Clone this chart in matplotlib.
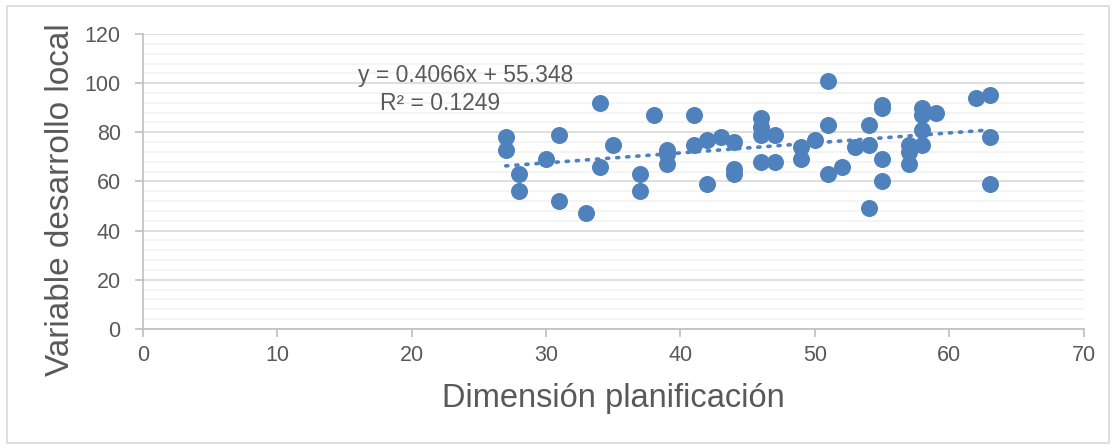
import numpy as np
import matplotlib
matplotlib.use("Agg")
import matplotlib.pyplot as plt
from matplotlib.ticker import MultipleLocator
from matplotlib.patches import Rectangle

# data
planificacion = [27, 27, 28, 28, 30, 31, 31, 33, 34, 34, 35, 37, 37, 38, 39, 39, 39,
                 41, 41, 42, 42, 43, 44, 44, 44, 46, 46, 46, 46, 47, 47, 49, 49, 50,
                 51, 51, 51, 52, 53, 54, 54, 54, 55, 55, 55, 55, 57, 57, 57, 58, 58,
                 58, 58, 59, 62, 63, 63, 63]
desarrollo = [78, 73, 63, 56, 69, 79, 52, 47, 92, 66, 75, 63, 56, 87, 73, 71, 67,
              87, 75, 77, 59, 78, 76, 65, 63, 86, 82, 79, 68, 79, 68, 74, 69, 77,
              101, 83, 63, 66, 74, 83, 75, 49, 91, 90, 69, 60, 75, 72, 67, 90, 87,
              81, 75, 88, 94, 95, 78, 59]

slope = 0.4066
intercept = 55.348
eq_text = "y = 0.4066x + 55.348"
r2_text = "R² = 0.1249"

plt.rcParams['font.family'] = ['Liberation Sans', 'DejaVu Sans']
blue = '#4F81BD'
grey_txt = '#595959'

fig = plt.figure(figsize=(11.16, 4.48), dpi=100)
ax = fig.add_axes([0.128, 0.266, 0.843, 0.658])

# chart border
fig.patches.append(Rectangle((0.006, 0.012), 0.988, 0.974, transform=fig.transFigure,
                             fill=False, edgecolor='#D9D9D9', linewidth=1.2))

ax.scatter(planificacion, desarrollo, s=150, color=blue, zorder=3, linewidths=0)

xs = np.array([min(planificacion), max(planificacion)])
ax.plot(xs, slope * xs + intercept, color=blue, linestyle=(0, (0.6, 2.2)),
        linewidth=2.6, dash_capstyle='round', zorder=2)

ax.text(32.0, 103.3, eq_text, fontsize=16.5, color=grey_txt, ha='right', va='center')
ax.text(26.6, 91.9, r2_text, fontsize=16.5, color=grey_txt, ha='right', va='center')

ax.set_xlim(0, 70)
ax.set_ylim(0, 120)
ax.xaxis.set_major_locator(MultipleLocator(10))
ax.yaxis.set_major_locator(MultipleLocator(20))
ax.yaxis.set_minor_locator(MultipleLocator(4))

ax.grid(axis='y', which='major', color='#D9D9D9', linewidth=1.2)
ax.grid(axis='y', which='minor', color='#F2F2F2', linewidth=1.2)
ax.set_axisbelow(True)

for s in ['top', 'right']:
    ax.spines[s].set_visible(False)
for s in ['left', 'bottom']:
    ax.spines[s].set_color('#BFBFBF')
    ax.spines[s].set_linewidth(1.2)

ax.tick_params(axis='both', which='major', colors='#BFBFBF', labelcolor=grey_txt,
               labelsize=15.5, length=6, width=1.2)
ax.tick_params(axis='y', which='minor', length=0)
ax.tick_params(axis='y', pad=10)
ax.tick_params(axis='x', pad=6)

ax.set_xlabel("Dimensión planificación", fontsize=23.5, color=grey_txt)
ax.set_ylabel("Variable desarrollo local", fontsize=24, color=grey_txt)
ax.xaxis.set_label_coords(0.5, -0.185)
ax.yaxis.set_label_coords(-0.071, 0.44)

fig.savefig("out.png", dpi=100)
